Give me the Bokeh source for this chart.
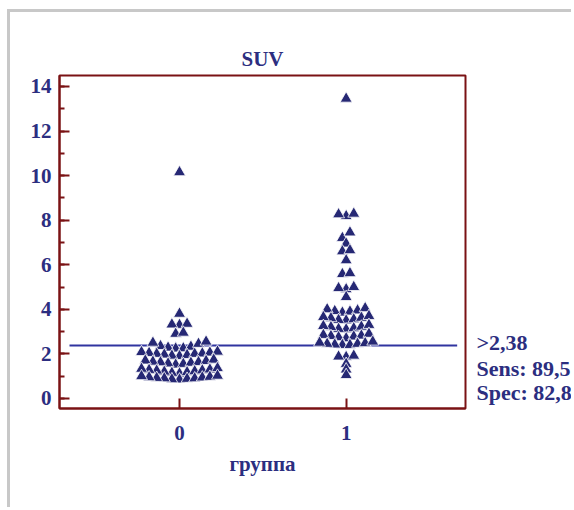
from bokeh.plotting import figure
from bokeh.models import (Range1d, SingleIntervalTicker, FixedTicker, LinearAxis,
                          ColumnDataSource)
from bokeh.embed import file_html
from bokeh.resources import INLINE

# ---- data ----
groups = [0, 1]
group_labels = ["0", "1"]
group0 = [10.15, 3.8, 3.3, 3.32, 3.35, 2.9, 2.95, 2.45, 2.5, 2.55,
          2.24, 2.25, 2.28, 2.32, 2.35,
          1.9, 1.92, 1.95, 1.97, 2.0, 2.0, 2.02, 2.04, 2.06, 2.08, 2.1,
          1.52, 1.55, 1.57, 1.6, 1.62, 1.63, 1.65, 1.68, 1.7, 1.74,
          1.12, 1.15, 1.18, 1.2, 1.22, 1.25, 1.26, 1.28, 1.3, 1.33, 1.36,
          0.85, 0.86, 0.88, 0.9, 0.9, 0.92, 0.94, 0.95, 0.97, 1.0, 1.02]
group1 = [13.45, 8.18, 8.26, 8.29, 7.45, 7.2, 6.95, 6.6, 6.65, 6.2, 5.58, 5.62,
          4.9, 4.95, 5.0, 4.55,
          3.85, 3.9, 3.92, 3.95, 4.0, 4.05,
          3.5, 3.52, 3.55, 3.6, 3.62, 3.65, 3.7,
          3.1, 3.12, 3.15, 3.2, 3.22, 3.25, 3.3,
          2.7, 2.75, 2.78, 2.8, 2.82, 2.85, 2.9,
          2.4, 2.4, 2.42, 2.45, 2.45, 2.48, 2.5, 2.55,
          1.86, 1.88, 1.92, 1.55, 1.3, 1.05]
threshold = 2.38
criterion_texts = [">2,38", "Sens: 89,5", "Spec: 82,8"]
y_ticks_interval = 2

# ---- style / layout ----
NAVY = "#2c2e80"
MARK = "#262874"
MAROON = "#7a1214"
FONT = "'Liberation Serif', 'Times New Roman', serif"
W, H = 564, 498
MB_L, MB_R, MB_T, MB_B = 49, 109, 63, 102
XR = (-0.72, 1.716)
YR = (-0.45, 14.49)
BIN0, BIN_H, SPACING_PX = 0.7, 0.38, 7.6

fw = W - MB_L - MB_R
ppx = fw / (XR[1] - XR[0])


def dot_layout(vals, gx):
    """Dot-plot layout: values sharing a row-bin are spread side by side."""
    bins = {}
    for v in vals:
        k = int((v - BIN0) // BIN_H)
        bins.setdefault(k, []).append(v)
    xs, ys = [], []
    for k, row in bins.items():
        row = sorted(row)
        n = len(row)
        slots = [(i - (n - 1) / 2.0) for i in range(n)]
        slots.sort(key=lambda s: (abs(s), s))
        for v, s in zip(row, slots):
            xs.append(gx + s * SPACING_PX / ppx)
            ys.append(v)
    return xs, ys


p = figure(width=W, height=H, output_backend="svg", toolbar_location=None,
           x_range=Range1d(*XR), y_range=Range1d(*YR),
           min_border_left=MB_L, min_border_right=MB_R,
           min_border_top=MB_T, min_border_bottom=MB_B,
           title="SUV")
p.styles = {"margin-left": "7px", "margin-top": "9px",
            "border-top": "3px solid #c8c8c8", "border-left": "3px solid #c8c8c8"}

p.background_fill_color = "white"
p.border_fill_color = "white"
p.grid.visible = False
p.outline_line_color = MAROON
p.outline_line_width = 2

p.title.text_font = FONT
p.title.text_font_size = "21px"
p.title.text_font_style = "bold"
p.title.text_color = NAVY
p.title.align = "center"
p.title.standoff = 10

# axes
for ax in (p.xaxis[0], p.yaxis[0]):
    ax.axis_line_color = MAROON
    ax.axis_line_width = 2
    ax.major_tick_line_color = MAROON
    ax.major_tick_line_width = 2
    ax.minor_tick_line_color = MAROON
    ax.minor_tick_line_width = 2
    ax.major_tick_in = 10
    ax.major_tick_out = 0
    ax.minor_tick_in = 5
    ax.minor_tick_out = 0
    ax.major_label_text_font = FONT
    ax.major_label_text_font_size = "21px"
    ax.major_label_text_font_style = "bold"
    ax.major_label_text_color = NAVY

p.yaxis[0].ticker = SingleIntervalTicker(interval=y_ticks_interval, num_minor_ticks=2)
p.yaxis[0].major_label_standoff = 8
p.xaxis[0].ticker = FixedTicker(ticks=groups)
p.xaxis[0].major_label_overrides = {g: l for g, l in zip(groups, group_labels)}
p.xaxis[0].minor_tick_line_color = None
p.xaxis[0].major_label_standoff = 17
p.xaxis[0].axis_label = "группа"
p.xaxis[0].axis_label_text_font = FONT
p.xaxis[0].axis_label_text_font_size = "21px"
p.xaxis[0].axis_label_text_font_style = "bold"
p.xaxis[0].axis_label_text_color = NAVY
p.xaxis[0].axis_label_standoff = 9

# criterion texts, shown as labels of a bare right-hand axis next to the cut-off line
fh = H - MB_T - MB_B
ppy = fh / (YR[1] - YR[0])
text_px_offsets = [3, -23, -47]
text_pos = [round(threshold + off / ppy, 3) for off in text_px_offsets]
rax = LinearAxis(ticker=FixedTicker(ticks=text_pos),
                 major_label_overrides={t: s for t, s in zip(text_pos, criterion_texts)},
                 axis_line_color=None, major_tick_line_color=None,
                 minor_tick_line_color=None, major_tick_in=0, major_tick_out=0,
                 major_label_standoff=11,
                 major_label_text_font=FONT, major_label_text_font_size="22px",
                 major_label_text_font_style="bold", major_label_text_color=NAVY)
p.add_layout(rax, "right")

# threshold line
p.segment(x0=[XR[0] + 0.06], x1=[XR[1] - 0.05], y0=[threshold], y1=[threshold],
          line_color="#3034a0", line_width=2)

# points
for g, vals in zip(groups, [group0, group1]):
    xs, ys = dot_layout(vals, g)
    src = ColumnDataSource(dict(x=xs, y=ys))
    p.scatter("x", "y", source=src, marker="triangle", size=12,
              fill_color=MARK, line_color="white", line_width=0.8)

open("out.html", "w").write(file_html(p, INLINE))
